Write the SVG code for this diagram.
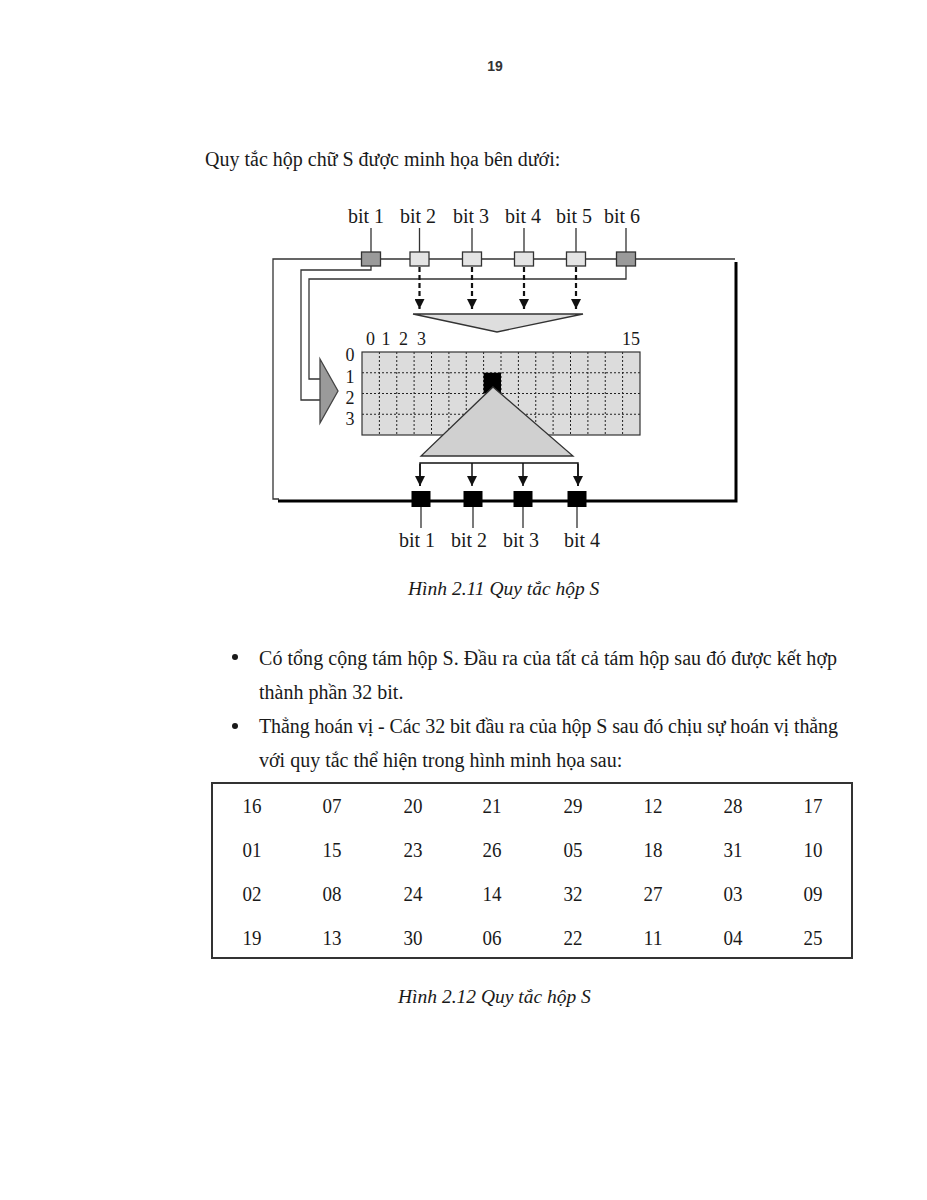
<svg xmlns="http://www.w3.org/2000/svg" width="927" height="1200" viewBox="0 0 927 1200">
<defs>
<style>
.txt{font-family:"Liberation Serif","Times New Roman",serif;fill:#1a1a1a}
.body{font-size:20px}
.cap{font-size:19.5px;font-style:italic}
.lbl{font-size:20px;text-anchor:middle}
.ax{font-size:18px;text-anchor:middle}
.num{font-size:22px;text-anchor:middle}
.wire{fill:none;stroke:#333;stroke-width:1.3}
.dash{fill:none;stroke:#111;stroke-width:2.2;stroke-dasharray:5 3}
.arr{fill:none;stroke:#111;stroke-width:1.5}
.grid{fill:none;stroke:#222;stroke-width:1;stroke-dasharray:2 2}
.boxD{fill:#9a9a9a;stroke:#333;stroke-width:1.3}
.boxL{fill:#e4e4e4;stroke:#333;stroke-width:1.3}
.boxB{fill:#000}
</style>
<marker id="ah" viewBox="0 0 10 10" refX="10" refY="5" markerWidth="10" markerHeight="10" markerUnits="userSpaceOnUse" orient="auto"><path d="M0,0 L10,5 L0,10 z" fill="#111" stroke="none"/></marker>
</defs>
<rect width="927" height="1200" fill="#fff"/>

<g id="page-text">
<text x="495" y="71" text-anchor="middle" style="font-family:'Liberation Sans',Arial,sans-serif;font-size:14px;font-weight:bold;fill:#333">19</text>
<text class="txt body" x="205" y="166">Quy tắc hộp chữ S được minh họa bên dưới:</text>
<text class="txt cap" x="408" y="595">Hình 2.11 Quy tắc hộp S</text>
<circle cx="235" cy="657" r="3" fill="#1a1a1a"/>
<text class="txt body" x="259" y="665" textLength="578" lengthAdjust="spacing">Có tổng cộng tám hộp S. Đầu ra của tất cả tám hộp sau đó được kết hợp</text>
<text class="txt body" x="259" y="699">thành phần 32 bit.</text>
<circle cx="235" cy="726" r="3" fill="#1a1a1a"/>
<text class="txt body" x="259" y="733" textLength="579" lengthAdjust="spacing">Thẳng hoán vị - Các 32 bit đầu ra của hộp S sau đó chịu sự hoán vị thẳng</text>
<text class="txt body" x="259" y="767">với quy tắc thể hiện trong hình minh họa sau:</text>
<text class="txt cap" x="398" y="1003">Hình 2.12 Quy tắc hộp S</text>
</g>

<g id="connectors">
<path class="wire" d="M735,259 H273 V499 H279"/>
<path d="M278,501 H736 V262" fill="none" stroke="#000" stroke-width="3"/>
<path class="wire" d="M371,228 V252 M419.5,228 V252 M472,228 V252 M524,228 V252 M576,228 V252 M626,228 V252"/>
<path class="wire" d="M371,266 V270 H301 V400 H320"/>
<path class="wire" d="M626,266 V279 H309 V379 H320"/>
<path class="dash" d="M419.5,267 V309" marker-end="url(#ah)"/>
<path class="dash" d="M472,267 V309" marker-end="url(#ah)"/>
<path class="dash" d="M524,267 V309" marker-end="url(#ah)"/>
<path class="dash" d="M576,267 V309" marker-end="url(#ah)"/>
<path class="arr" d="M420,486 V463 H578 V486"/>
<path class="arr" d="M420,464 V486" marker-end="url(#ah)"/>
<path class="arr" d="M472,463 V486" marker-end="url(#ah)"/>
<path class="arr" d="M523,463 V486" marker-end="url(#ah)"/>
<path class="arr" d="M578,464 V486" marker-end="url(#ah)"/>
<path class="wire" d="M421,507 V528 M473,507 V528 M523,507 V528 M577,507 V528"/>
</g>

<g id="inputs">
<g id="in-bit1"><rect class="boxD" x="361.5" y="252" width="19" height="14"/><text class="txt lbl" x="366" y="223">bit 1</text></g>
<g id="in-bit2"><rect class="boxL" x="410" y="252" width="19" height="14"/><text class="txt lbl" x="418" y="223">bit 2</text></g>
<g id="in-bit3"><rect class="boxL" x="462.5" y="252" width="19" height="14"/><text class="txt lbl" x="471" y="223">bit 3</text></g>
<g id="in-bit4"><rect class="boxL" x="514.5" y="252" width="19" height="14"/><text class="txt lbl" x="523" y="223">bit 4</text></g>
<g id="in-bit5"><rect class="boxL" x="566.5" y="252" width="19" height="14"/><text class="txt lbl" x="574" y="223">bit 5</text></g>
<g id="in-bit6"><rect class="boxD" x="616.5" y="252" width="19" height="14"/><text class="txt lbl" x="622" y="223">bit 6</text></g>
</g>

<g id="column-selector">
<polygon points="413,314 583,314 497,332" fill="#dedede" stroke="#333" stroke-width="1.3"/>
</g>

<g id="row-selector">
<polygon points="320,359 338,391 320,423" fill="#9a9a9a" stroke="#444" stroke-width="1.3"/>
</g>

<g id="sbox-table">
<rect x="362" y="352" width="278" height="83" fill="#dcdcdc"/>
<path class="grid" d="M379.4,352V435M396.75,352V435M414.1,352V435M431.5,352V435M448.9,352V435M466.25,352V435M483.6,352V435M501,352V435M518.4,352V435M535.75,352V435M553.1,352V435M570.5,352V435M587.9,352V435M605.25,352V435M622.6,352V435M362,372.75H640M362,393.5H640M362,414.25H640"/>
<rect x="362" y="352" width="278" height="83" fill="none" stroke="#333" stroke-width="1.2"/>
<rect class="boxB" x="483.6" y="372.75" width="17.4" height="20.75"/>
<text class="txt ax" x="370.5" y="345">0</text>
<text class="txt ax" x="386" y="345">1</text>
<text class="txt ax" x="403.5" y="345">2</text>
<text class="txt ax" x="421.5" y="345">3</text>
<text class="txt ax" x="631" y="345">15</text>
<text class="txt ax" x="350" y="361">0</text>
<text class="txt ax" x="350" y="383">1</text>
<text class="txt ax" x="350" y="404">2</text>
<text class="txt ax" x="350" y="425">3</text>
</g>

<g id="output-selector">
<polygon points="493,387 573,456 421,456" fill="#d0d0d0" stroke="#333" stroke-width="1.3"/>
</g>

<g id="outputs">
<g id="out-bit1"><rect class="boxB" x="411.5" y="491" width="19" height="16"/><text class="txt lbl" x="417" y="547">bit 1</text></g>
<g id="out-bit2"><rect class="boxB" x="463.5" y="491" width="19" height="16"/><text class="txt lbl" x="469" y="547">bit 2</text></g>
<g id="out-bit3"><rect class="boxB" x="513.5" y="491" width="19" height="16"/><text class="txt lbl" x="521" y="547">bit 3</text></g>
<g id="out-bit4"><rect class="boxB" x="567.5" y="491" width="19" height="16"/><text class="txt lbl" x="582" y="547">bit 4</text></g>
</g>

<g id="permutation-table">
<rect x="212" y="783" width="640" height="175" fill="none" stroke="#333" stroke-width="2"/>
<g class="txt num">
<text x="252" y="813" textLength="19" lengthAdjust="spacingAndGlyphs">16</text><text x="332" y="813" textLength="19" lengthAdjust="spacingAndGlyphs">07</text><text x="413" y="813" textLength="19" lengthAdjust="spacingAndGlyphs">20</text><text x="492" y="813" textLength="19" lengthAdjust="spacingAndGlyphs">21</text><text x="573" y="813" textLength="19" lengthAdjust="spacingAndGlyphs">29</text><text x="653" y="813" textLength="19" lengthAdjust="spacingAndGlyphs">12</text><text x="733" y="813" textLength="19" lengthAdjust="spacingAndGlyphs">28</text><text x="813" y="813" textLength="19" lengthAdjust="spacingAndGlyphs">17</text>
<text x="252" y="857" textLength="19" lengthAdjust="spacingAndGlyphs">01</text><text x="332" y="857" textLength="19" lengthAdjust="spacingAndGlyphs">15</text><text x="413" y="857" textLength="19" lengthAdjust="spacingAndGlyphs">23</text><text x="492" y="857" textLength="19" lengthAdjust="spacingAndGlyphs">26</text><text x="573" y="857" textLength="19" lengthAdjust="spacingAndGlyphs">05</text><text x="653" y="857" textLength="19" lengthAdjust="spacingAndGlyphs">18</text><text x="733" y="857" textLength="19" lengthAdjust="spacingAndGlyphs">31</text><text x="813" y="857" textLength="19" lengthAdjust="spacingAndGlyphs">10</text>
<text x="252" y="901" textLength="19" lengthAdjust="spacingAndGlyphs">02</text><text x="332" y="901" textLength="19" lengthAdjust="spacingAndGlyphs">08</text><text x="413" y="901" textLength="19" lengthAdjust="spacingAndGlyphs">24</text><text x="492" y="901" textLength="19" lengthAdjust="spacingAndGlyphs">14</text><text x="573" y="901" textLength="19" lengthAdjust="spacingAndGlyphs">32</text><text x="653" y="901" textLength="19" lengthAdjust="spacingAndGlyphs">27</text><text x="733" y="901" textLength="19" lengthAdjust="spacingAndGlyphs">03</text><text x="813" y="901" textLength="19" lengthAdjust="spacingAndGlyphs">09</text>
<text x="252" y="945" textLength="19" lengthAdjust="spacingAndGlyphs">19</text><text x="332" y="945" textLength="19" lengthAdjust="spacingAndGlyphs">13</text><text x="413" y="945" textLength="19" lengthAdjust="spacingAndGlyphs">30</text><text x="492" y="945" textLength="19" lengthAdjust="spacingAndGlyphs">06</text><text x="573" y="945" textLength="19" lengthAdjust="spacingAndGlyphs">22</text><text x="653" y="945" textLength="19" lengthAdjust="spacingAndGlyphs">11</text><text x="733" y="945" textLength="19" lengthAdjust="spacingAndGlyphs">04</text><text x="813" y="945" textLength="19" lengthAdjust="spacingAndGlyphs">25</text>
</g>
</g>
</svg>
